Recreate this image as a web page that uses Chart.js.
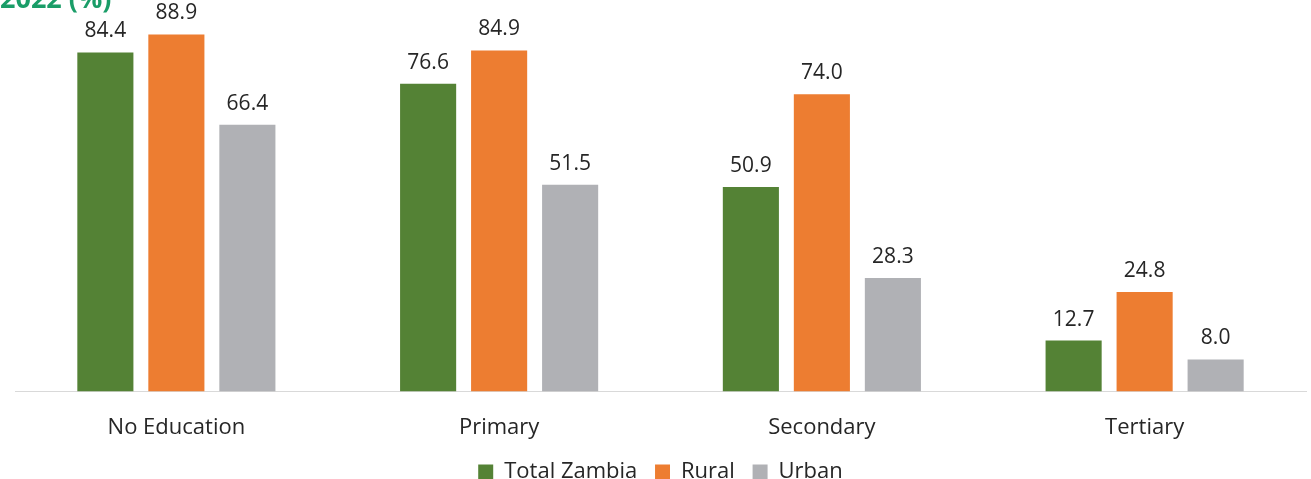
<!DOCTYPE html>
<html>
<head>
<meta charset="utf-8">
<script src="https://cdn.jsdelivr.net/npm/chart.js@4.4.1/dist/chart.umd.min.js"></script>
<style>
    body { margin: 0; background: #fff; }
    #wrap { position: relative; width: 1311px; height: 479px; overflow: hidden; }
    #title { position: absolute; left: 0; top: -21px; font: bold 27px "Open Sans", sans-serif; color: #1a9d68; }
    canvas { position: absolute; left: 0; top: 0; }
</style>
</head>
<body>
<div id="wrap">
    <canvas id="chart" width="1311" height="479"></canvas>
    <div id="title">2022 (%)</div>
</div>
<script>
const categories = ["No Education", "Primary", "Secondary", "Tertiary"];
const totalZambia = [84.4, 76.6, 50.9, 12.7];
const rural = [88.9, 84.9, 74.0, 24.8];
const urban = [66.4, 51.5, 28.3, 8.0];

const fontFamily = "'Open Sans', sans-serif";
const textColor = "#262626";

const valueLabels = {
    id: "valueLabels",
    afterDatasetsDraw(chart) {
        const ctx = chart.ctx;
        ctx.save();
        ctx.font = `21px ${fontFamily}`;
        ctx.fillStyle = textColor;
        ctx.textAlign = "center";
        ctx.textBaseline = "middle";
        chart.data.datasets.forEach((ds, i) => {
            chart.getDatasetMeta(i).data.forEach((bar, j) => {
                ctx.fillText(ds.data[j].toFixed(1), bar.x, bar.y - 21);
            });
        });
        ctx.restore();
    }
};

new Chart(document.getElementById("chart"), {
    type: "bar",
    data: {
        labels: categories,
        datasets: [
            {label: "Total Zambia", data: totalZambia, backgroundColor: "#548235"},
            {label: "Rural", data: rural, backgroundColor: "#ed7d31"},
            {label: "Urban", data: urban, backgroundColor: "#b0b1b5"}
        ]
    },
    options: {
        responsive: false,
        animation: false,
        layout: {padding: {left: 15, right: 5, top: 30, bottom: -14}},
        datasets: {bar: {categoryPercentage: 0.66, barPercentage: 0.79}},
        plugins: {
            legend: {
                position: "bottom",
                labels: {
                    color: textColor,
                    font: {family: fontFamily, size: 22},
                    boxWidth: 15,
                    boxHeight: 15,
                    padding: 12,
                    // extra gap between items without making the legend taller
                    generateLabels(chart) {
                        const items = Chart.defaults.plugins.legend.labels.generateLabels(chart);
                        items.forEach((it, i) => { if (i < items.length - 1) it.text += " "; });
                        return items;
                    }
                }
            },
            tooltip: {enabled: false}
        },
        scales: {
            x: {
                grid: {display: false, drawTicks: false},
                border: {color: "#d9d9d9", width: 1},
                ticks: {color: textColor, font: {family: fontFamily, size: 22}, padding: 23},
                afterFit(scale) { scale.height -= 15; }
            },
            y: {display: false, min: 0, max: 90}
        }
    },
    plugins: [valueLabels]
});
</script>
</body>
</html>
